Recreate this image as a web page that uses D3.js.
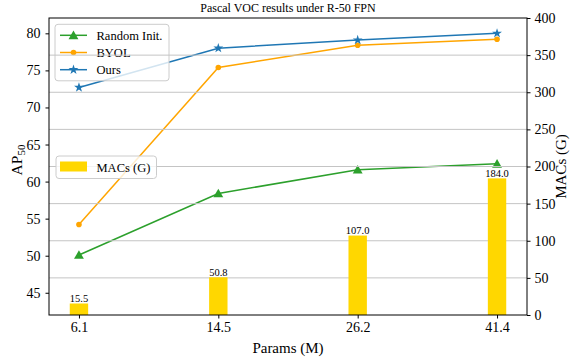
<!DOCTYPE html>
<html>
<head>
<meta charset="utf-8">
<script src="https://cdn.jsdelivr.net/npm/d3@7"></script>
<style>
  body { margin: 0; background: #fff; }
  text { font-family: "Liberation Serif", "Times New Roman", serif; fill: #000; }
</style>
</head>
<body>
<div id="chart"></div>
<script>
// data
var params = ["6.1", "14.5", "26.2", "41.4"]
var randomInit = [50.1, 58.4, 61.6, 62.4]
var byol = [54.2, 75.4, 78.4, 79.2]
var ours = [72.7, 78.0, 79.1, 80.0]
var macs = [15.5, 50.8, 107.0, 184.0]
var apTicks = [45, 50, 55, 60, 65, 70, 75, 80]
var macTicks = [0, 50, 100, 150, 200, 250, 300, 350, 400]

var width = 571, height = 360
var margin = {top: 18, right: 44, bottom: 45, left: 49}
var w = width - margin.left - margin.right
var h = height - margin.top - margin.bottom

var svg = d3.select("#chart").append("svg")
    .attr("width", width)
    .attr("height", height)

var g = svg.append("g")
    .attr("transform", "translate(" + margin.left + "," + margin.top + ")")

var x = d3.scaleLinear().domain([-0.215, 3.215]).range([0, w])
var yL = d3.scaleLinear().domain([42, 82.07]).range([h, 0])
var yR = d3.scaleLinear().domain([0, 400]).range([h, 0])

var idx = params.map(function(d, i) { return i })

// ---- ax1 : AP lines ----
var series = [
  {name: "Random Init.", vals: randomInit, color: "#2ca02c", marker: "tri"},
  {name: "BYOL", vals: byol, color: "#ffa500", marker: "dot"},
  {name: "Ours", vals: ours, color: "#1f77b4", marker: "star"}
]

function drawMarker(sel, m, color) {
  if (m == "dot") {
    sel.append("circle").attr("r", 2.8).attr("fill", color)
  } else if (m == "tri") {
    sel.append("path").attr("d", d3.symbol(d3.symbolTriangle, 42)()).attr("fill", color)
      .attr("transform", "translate(0,1)")
  } else {
    sel.append("path").attr("d", d3.symbol(d3.symbolStar, 30)()).attr("fill", color)
  }
}

var line = d3.line()
    .x(function(d, i) { return x(i) })
    .y(function(d) { return yL(d) })

series.forEach(function(s) {
  g.append("path")
    .datum(s.vals)
    .attr("fill", "none")
    .attr("stroke", s.color)
    .attr("stroke-width", 1.5)
    .attr("d", line)
  s.vals.forEach(function(v, i) {
    var mk = g.append("g").attr("transform", "translate(" + x(i) + "," + yL(v) + ")")
    drawMarker(mk, s.marker, s.color)
  })
})

// legend 1 (belongs to ax1, so gridlines go over it)
var leg1 = g.append("g").attr("transform", "translate(6,6.3)")
leg1.append("rect")
    .attr("width", 114).attr("height", 56.5).attr("rx", 3)
    .attr("fill", "#fff").attr("fill-opacity", 0.8)
    .attr("stroke", "#ccc").attr("stroke-width", 1)
series.forEach(function(s, i) {
  var ry = 11 + i * 17.2
  var row = leg1.append("g").attr("transform", "translate(0," + ry + ")")
  row.append("line").attr("x1", 5).attr("x2", 32)
    .attr("stroke", s.color).attr("stroke-width", 1.5)
  drawMarker(row.append("g").attr("transform", "translate(18.5,0)"), s.marker, s.color)
  row.append("text").attr("x", 41.5).attr("y", 4.3)
    .style("font-size", "12.5px").text(s.name)
})

// ---- ax2 : gridlines, MACs bars ----
g.append("g")
  .selectAll("line")
  .data(macTicks.slice(1, -1))
  .enter().append("line")
    .attr("x1", 0).attr("x2", w)
    .attr("y1", function(d) { return yR(d) })
    .attr("y2", function(d) { return yR(d) })
    .attr("stroke", "#c4c4c4").attr("stroke-width", 1)

var barW = x(0.132) - x(0)
g.selectAll(".bar")
  .data(macs)
  .enter().append("rect")
    .attr("class", "bar")
    .attr("x", function(d, i) { return x(i) - barW / 2 })
    .attr("y", function(d) { return yR(d) })
    .attr("width", barW)
    .attr("height", function(d) { return h - yR(d) })
    .attr("fill", "#ffd700")

g.selectAll(".blab")
  .data(macs)
  .enter().append("text")
    .attr("class", "blab")
    .attr("x", function(d, i) { return x(i) })
    .attr("y", function(d) { return yR(d) - 1.5 })
    .attr("text-anchor", "middle")
    .style("font-size", "10.5px")
    .text(function(d) { return d.toFixed(1) })

// legend 2
var leg2 = g.append("g").attr("transform", "translate(7,138)")
leg2.append("rect")
    .attr("width", 100.5).attr("height", 22.5).attr("rx", 3)
    .attr("fill", "#fff").attr("fill-opacity", 0.8)
    .attr("stroke", "#ccc").attr("stroke-width", 1)
leg2.append("rect").attr("x", 4).attr("y", 5.5).attr("width", 27).attr("height", 10)
    .attr("fill", "#ffd700")
leg2.append("text").attr("x", 40.5).attr("y", 15.5)
    .style("font-size", "12.5px").text("MACs (G)")

// ---- axes ----
var axL = g.append("g")
    .call(d3.axisLeft(yL).tickValues(apTicks).tickSize(3.5).tickPadding(5))
var axR = g.append("g")
    .attr("transform", "translate(" + w + ",0)")
    .call(d3.axisRight(yR).tickValues(macTicks).tickSize(3.5).tickPadding(4))
var axB = g.append("g")
    .attr("transform", "translate(0," + h + ")")
    .call(d3.axisBottom(x).tickValues(idx).tickSize(3.5).tickPadding(4)
      .tickFormat(function(i) { return params[i] }))

;[axL, axR, axB].forEach(function(a) {
  a.select(".domain").remove()
  a.selectAll("line").attr("stroke", "#000").attr("stroke-width", 1)
  a.selectAll("text").style("font-size", "14px").attr("fill", "#000")
    .style("font-family", "'Liberation Serif', serif")
})

g.append("rect")
    .attr("width", w).attr("height", h)
    .attr("fill", "none").attr("stroke", "#000").attr("stroke-width", 1)

// titles
svg.append("text")
    .attr("x", margin.left + w / 2).attr("y", 12)
    .attr("text-anchor", "middle")
    .style("font-size", "12px")
    .text("Pascal VOC results under R-50 FPN")

svg.append("text")
    .attr("x", margin.left + w / 2).attr("y", 353)
    .attr("text-anchor", "middle")
    .style("font-size", "15px")
    .text("Params (M)")

var apLab = svg.append("text")
    .attr("transform", "translate(21.5,160) rotate(-90)")
    .attr("text-anchor", "middle")
    .style("font-size", "15.5px")
apLab.append("tspan").text("AP")
apLab.append("tspan").attr("dy", 3).style("font-size", "11px").text("50")

svg.append("text")
    .attr("transform", "translate(561,166.5) rotate(-90)")
    .attr("text-anchor", "middle")
    .attr("dy", "0.35em")
    .style("font-size", "15px")
    .text("MACs (G)")
</script>
</body>
</html>
